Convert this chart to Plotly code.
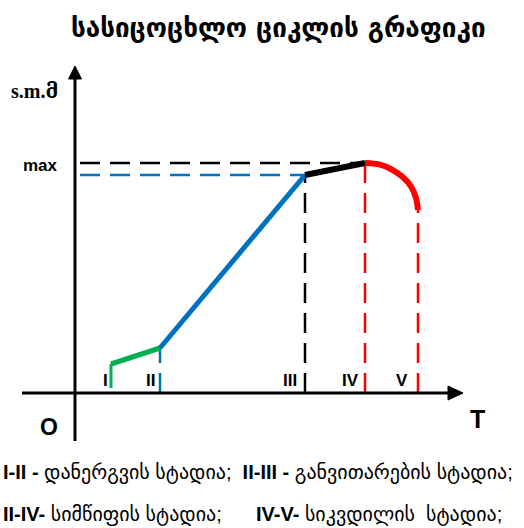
import plotly.graph_objects as go

# Life-cycle curve, in chart units (T along x, sales volume along y)
green_x = [3.6, 3.6, 8.5]
green_y = [0.5, 2.9, 4.5]
blue_x = [8.5, 23.0]
blue_y = [4.5, 21.8]
black_x = [23.0, 29.0]
black_y = [21.8, 23.0]
red_x = [29.0, 30.4, 31.65, 32.75, 33.6, 34.1, 34.3]
red_y = [23.0, 22.86, 22.37, 21.62, 20.65, 19.5, 18.3]

# Stage markers on the T axis
stage_labels = ["I", "II", "III", "IV", "V"]
stage_label_x = [3.0, 7.5, 21.5, 27.5, 32.7]

title_text = "სასიცოცხლო ციკლის გრაფიკი"
y_label = "s.m.მ"
max_label = "max"
legend_line1 = "<b>I-II -</b> დანერგვის სტადია;  <b>II-III -</b> განვითარების სტადია;"
legend_line2a = "<b>II-IV-</b> სიმწიფის სტადია;"
legend_line2b = "<b>IV-V-</b> სიკვდილის  სტადია;"

GREEN = "#00B050"
BLUE = "#0070C0"
RED = "#FF0000"
BLACK = "#000000"
DASH = "20px,10px"
SANS = "Liberation Sans, DejaVu Sans, Arial"

fig = go.Figure()


def seg(x, y, color, width, dash=None, shape="linear"):
    fig.add_trace(go.Scatter(
        x=x, y=y, mode="lines", hoverinfo="skip",
        line=dict(color=color, width=width, dash=dash, shape=shape, smoothing=0.8),
    ))


# guide lines (dashed)
seg([0.5, black_x[1]], [black_y[1], black_y[1]], BLACK, 2.5, DASH)
seg([0.5, blue_x[1]], [blue_y[1], blue_y[1]], BLUE, 2.5, DASH)
seg([blue_x[0], blue_x[0]], [0, blue_y[0]], BLUE, 2.5, DASH)
seg([black_x[0], black_x[0]], [0, black_y[0]], BLACK, 2.5, DASH)
seg([red_x[0], red_x[0]], [0, red_y[0]], RED, 2.5, DASH)
seg([red_x[-1], red_x[-1]], [0, red_y[-1]], RED, 2.5, DASH)

# curve segments
seg(green_x[:2], green_y[:2], GREEN, 3)
seg(green_x[1:], green_y[1:], GREEN, 5)
seg(blue_x, blue_y, BLUE, 5)
seg(black_x, black_y, BLACK, 6)
seg(red_x, red_y, RED, 6, shape="spline")

# axes with arrowheads
shapes = [
    dict(type="line", x0=-5.3, y0=0, x1=37.6, y1=0, line=dict(color=BLACK, width=3)),
    dict(type="path", path="M 37.3 0.7 L 38.8 0 L 37.3 -0.7 Z",
         fillcolor=BLACK, line=dict(color=BLACK, width=1)),
    dict(type="line", x0=0, y0=-4.8, x1=0, y1=31.6, line=dict(color=BLACK, width=3)),
    dict(type="path", path="M -0.65 31.4 L 0 32.7 L 0.65 31.4 Z",
         fillcolor=BLACK, line=dict(color=BLACK, width=1)),
]

ann = []
for lab, x in zip(stage_labels, stage_label_x):
    ann.append(dict(x=x, y=0.15, text=f"<b>{lab}</b>", showarrow=False,
                    xanchor="center", yanchor="bottom",
                    font=dict(family=SANS, size=17, color=BLACK)))

ann += [
    dict(x=-3.5, y=22.8, text=f"<b>{max_label}</b>", showarrow=False,
         font=dict(family=SANS, size=17, color=BLACK)),
    dict(x=-4.1, y=30.2, text=f"<b>{y_label}</b>", showarrow=False,
         font=dict(family="Liberation Serif, DejaVu Serif", size=20, color=BLACK)),
    dict(x=-2.6, y=-3.4, text="<b>O</b>", showarrow=False,
         font=dict(family=SANS, size=23, color=BLACK)),
    dict(x=40.2, y=-2.6, text="<b>T</b>", showarrow=False,
         font=dict(family=SANS, size=25, color=BLACK)),
    dict(x=0.532, y=1 - 28 / 528, xref="paper", yref="paper", text=f"<b>{title_text}</b>",
         showarrow=False, xanchor="center", yanchor="middle",
         font=dict(family="DejaVu Sans", size=26, color=BLACK)),
    dict(x=0.002, y=1 - 472 / 528, xref="paper", yref="paper", text=legend_line1,
         showarrow=False, xanchor="left", yanchor="middle",
         font=dict(family=SANS, size=20, color=BLACK)),
    dict(x=0.002, y=1 - 514 / 528, xref="paper", yref="paper", text=legend_line2a,
         showarrow=False, xanchor="left", yanchor="middle",
         font=dict(family=SANS, size=20, color=BLACK)),
    dict(x=254 / 524, y=1 - 514 / 528, xref="paper", yref="paper", text=legend_line2b,
         showarrow=False, xanchor="left", yanchor="middle",
         font=dict(family=SANS, size=20, color=BLACK)),
]

fig.update_layout(
    width=524, height=528,
    margin=dict(l=0, r=0, t=0, b=0),
    paper_bgcolor="white", plot_bgcolor="white",
    showlegend=False,
    xaxis=dict(range=[-7.5, 44.9], visible=False, fixedrange=True),
    yaxis=dict(range=[-13.5, 39.3], visible=False, fixedrange=True),
    shapes=shapes,
    annotations=ann,
)

fig.write_html("out.html")
